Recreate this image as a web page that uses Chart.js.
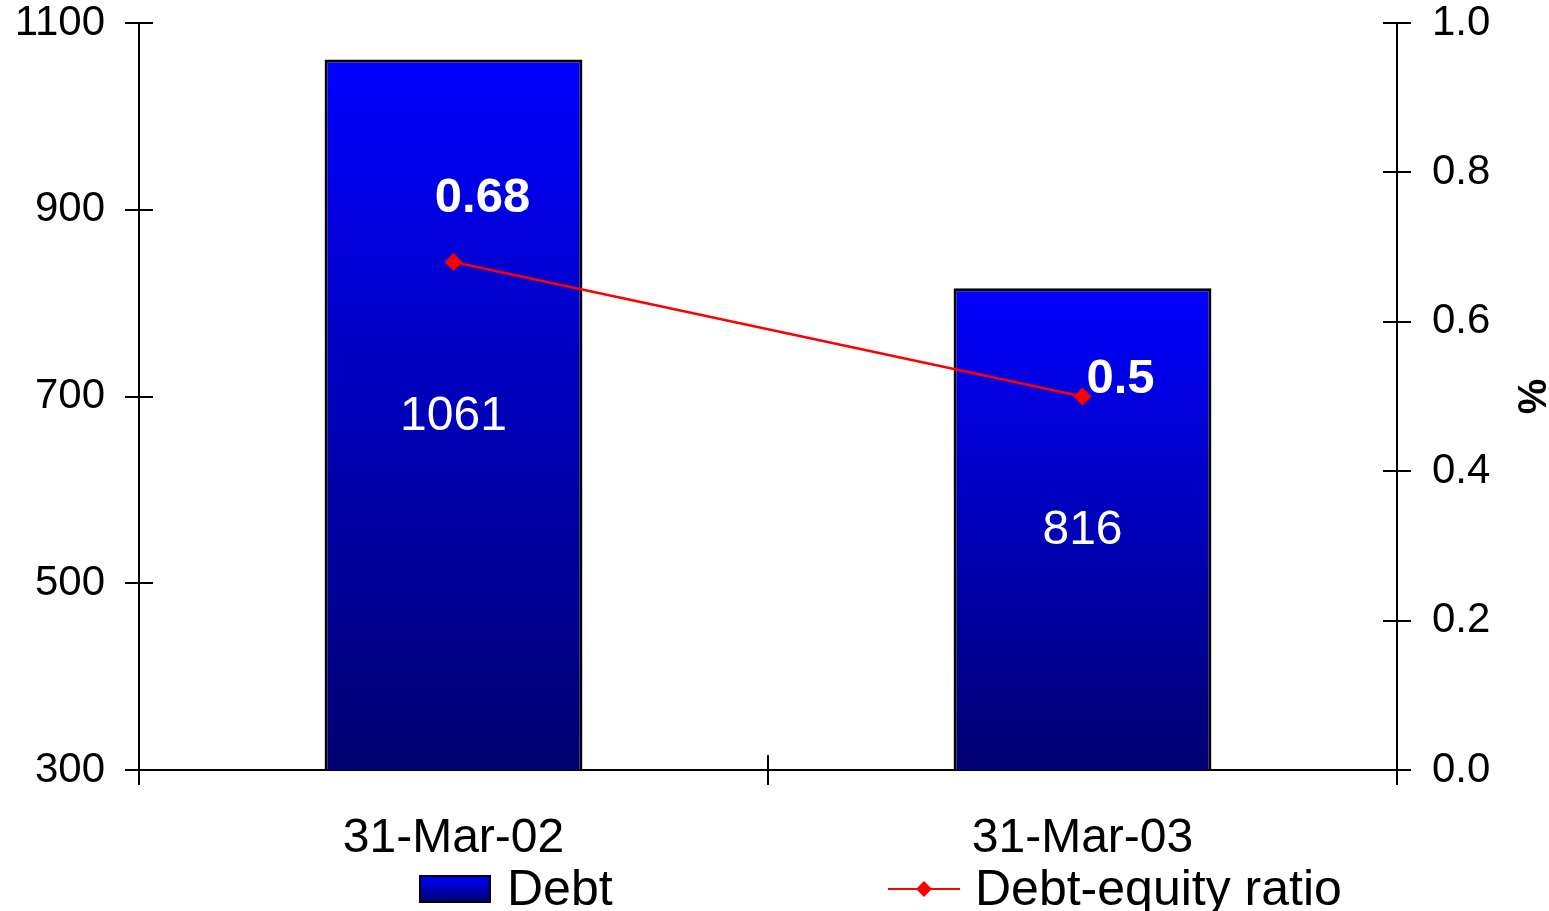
<!DOCTYPE html>
<html>
<head>
<meta charset="utf-8">
<script src="https://cdn.jsdelivr.net/npm/chart.js@4.4.1/dist/chart.umd.min.js"></script>
<style>
    html, body { margin: 0; padding: 0; background: #ffffff; overflow: hidden; }
    canvas { display: block; }
</style>
</head>
<body>
<canvas id="debtChart" width="1549" height="911"></canvas>
<script>
const categories = ["31-Mar-02", "31-Mar-03"];
const debtValues = [1061, 816];
const ratioValues = [0.68, 0.5];
const leftTicks = [300, 500, 700, 900, 1100];
const rightTicks = [0.0, 0.2, 0.4, 0.6, 0.8, 1.0];

const fontFamily = "'Liberation Sans', Arial, sans-serif";
const barTop = "#0000ff";
const barBottom = "#000070";

function barGradient(context) {
    const chart = context.chart;
    const area = chart.chartArea;
    if (!area || context.type !== "data") return barTop;
    const top = chart.scales.y.getPixelForValue(context.raw);
    const gradient = chart.ctx.createLinearGradient(0, top, 0, area.bottom);
    gradient.addColorStop(0, barTop);
    gradient.addColorStop(1, barBottom);
    return gradient;
}

// inner half of the crossing tick marks
const innerTicks = {
    id: "innerTicks",
    afterDraw(chart) {
        const { ctx, scales } = chart;
        const area = chart.chartArea;
        ctx.save();
        ctx.strokeStyle = "#000";
        ctx.lineWidth = 2;
        ctx.beginPath();
        leftTicks.forEach((v) => {
            const y = Math.round(scales.y.getPixelForValue(v));
            ctx.moveTo(area.left, y);
            ctx.lineTo(area.left + 14, y);
        });
        rightTicks.forEach((v) => {
            const y = Math.round(scales.y1.getPixelForValue(v));
            ctx.moveTo(area.right - 14, y);
            ctx.lineTo(area.right, y);
        });
        const step = (area.right - area.left) / categories.length;
        for (let i = 0; i <= categories.length; i++) {
            const x = Math.round(area.left + i * step);
            ctx.moveTo(x, area.bottom);
            ctx.lineTo(x, area.bottom - 15);
        }
        ctx.stroke();
        ctx.restore();
    }
};

const valueLabels = {
    id: "valueLabels",
    afterDatasetsDraw(chart) {
        const { ctx } = chart;
        const area = chart.chartArea;
        ctx.save();
        ctx.fillStyle = "#ffffff";
        ctx.textAlign = "center";
        ctx.textBaseline = "middle";

        const barMeta = chart.getDatasetMeta(1);
        ctx.font = "48px " + fontFamily;
        barMeta.data.forEach((bar, i) => {
            const base = Math.min(bar.base, area.bottom);
            ctx.fillText(String(debtValues[i]), bar.x, (bar.y + base) / 2 + 2);
        });

        // Excel labels were dragged by hand, so each has its own offset
        const labelOffsets = [[29, -64], [38, -17]];
        const lineMeta = chart.getDatasetMeta(0);
        ctx.font = "bold 49px " + fontFamily;
        lineMeta.data.forEach((pt, i) => {
            ctx.fillText(String(ratioValues[i]), pt.x + labelOffsets[i][0], pt.y + labelOffsets[i][1]);
        });
        ctx.restore();
    }
};

const bottomLegend = {
    id: "bottomLegend",
    afterDraw(chart) {
        const { ctx } = chart;
        const y = 889;
        ctx.save();
        // Debt box
        const g = ctx.createLinearGradient(0, 876, 0, 902);
        g.addColorStop(0, barTop);
        g.addColorStop(1, barBottom);
        ctx.fillStyle = g;
        ctx.fillRect(420, 876, 70, 26);
        ctx.strokeStyle = "#000";
        ctx.lineWidth = 2;
        ctx.strokeRect(420, 876, 70, 26);

        // ratio line + diamond
        ctx.strokeStyle = "#ff0000";
        ctx.beginPath();
        ctx.moveTo(888, y);
        ctx.lineTo(960, y);
        ctx.stroke();
        ctx.fillStyle = "#ff0000";
        ctx.beginPath();
        ctx.moveTo(924, y - 8);
        ctx.lineTo(932, y);
        ctx.lineTo(924, y + 8);
        ctx.lineTo(916, y);
        ctx.closePath();
        ctx.fill();

        ctx.fillStyle = "#000";
        ctx.font = "50px " + fontFamily;
        ctx.textAlign = "left";
        ctx.textBaseline = "middle";
        ctx.fillText(chart.data.datasets[1].label, 507, y + 2);
        ctx.fillText(chart.data.datasets[0].label, 975, y + 2);
        ctx.restore();
    }
};

function fixVertical(width) {
    return (scale) => {
        scale.width = width;
        scale.paddingTop = 0;
        scale.paddingBottom = 0;
    };
}

Chart.defaults.font.family = fontFamily;
Chart.defaults.color = "#000";

new Chart(document.getElementById("debtChart"), {
    type: "bar",
    data: {
        labels: categories,
        datasets: [
            {
                type: "line",
                label: "Debt-equity ratio",
                data: ratioValues,
                yAxisID: "y1",
                borderColor: "#ff0000",
                backgroundColor: "#ff0000",
                borderWidth: 2.5,
                pointStyle: "rectRot",
                pointRadius: 9,
                pointBorderWidth: 0,
                tension: 0,
                order: 0
            },
            {
                label: "Debt",
                data: debtValues,
                yAxisID: "y",
                backgroundColor: barGradient,
                borderColor: "#000",
                borderWidth: 3,
                borderSkipped: false,
                categoryPercentage: 1,
                barPercentage: 0.41,
                order: 1
            }
        ]
    },
    options: {
        responsive: false,
        animation: false,
        layout: { padding: { top: 23, left: 0, right: 0, bottom: 0 } },
        plugins: {
            legend: { display: false },
            tooltip: { enabled: false }
        },
        scales: {
            x: {
                offset: true,
                border: { display: true, color: "#000", width: 2 },
                grid: { offset: true, drawOnChartArea: false, drawTicks: true, tickLength: 15, color: "#000", lineWidth: 2 },
                ticks: { font: { size: 48, lineHeight: 1 }, padding: 30, color: "#000" },
                afterFit: (scale) => {
                    scale.height = 141;
                    scale.paddingLeft = 0;
                    scale.paddingRight = 0;
                }
            },
            y: {
                position: "left",
                min: 300,
                max: 1100,
                afterBuildTicks: (scale) => { scale.ticks = leftTicks.map((v) => ({ value: v })); },
                border: { display: true, color: "#000", width: 2 },
                grid: { drawOnChartArea: false, drawTicks: true, tickLength: 14, color: "#000", lineWidth: 2 },
                ticks: {
                    font: { size: 42, lineHeight: 1 },
                    padding: 20,
                    color: "#000",
                    callback: (value) => String(value)
                },
                afterFit: fixVertical(139)
            },
            y1: {
                position: "right",
                min: 0,
                max: 1,
                afterBuildTicks: (scale) => { scale.ticks = rightTicks.map((v) => ({ value: v })); },
                border: { display: true, color: "#000", width: 2 },
                grid: { drawOnChartArea: false, drawTicks: true, tickLength: 14, color: "#000", lineWidth: 2 },
                ticks: {
                    font: { size: 42, lineHeight: 1 },
                    padding: 21,
                    color: "#000",
                    callback: (value) => Number(value).toFixed(1)
                },
                title: {
                    display: true,
                    text: "%",
                    font: { size: 40, weight: "bold", lineHeight: 1 },
                    padding: 0,
                    color: "#000"
                },
                afterFit: fixVertical(152)
            }
        }
    },
    plugins: [innerTicks, valueLabels, bottomLegend]
});
</script>
</body>
</html>
